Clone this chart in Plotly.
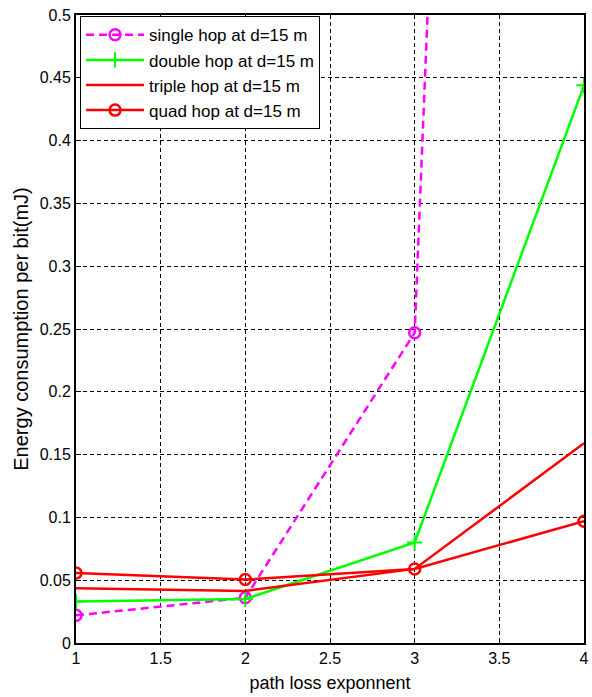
import plotly.graph_objects as go

x = [1, 2, 3, 4]
single_hop = [0.022, 0.036, 0.247, 3.58]
double_hop = [0.033, 0.035, 0.080, 0.444]
triple_hop = [0.0435, 0.0415, 0.059, 0.159]
quad_hop = [0.0557, 0.0505, 0.059, 0.097]

names = ["single hop at d=15 m", "double hop at d=15 m",
         "triple hop at d=15 m", "quad hop at d=15 m"]

xticks = [1, 1.5, 2, 2.5, 3, 3.5, 4]
yticks = [0, 0.05, 0.1, 0.15, 0.2, 0.25, 0.3, 0.35, 0.4, 0.45, 0.5]
ytick_text = ["0", "0.05", "0.1", "0.15", "0.2", "0.25", "0.3", "0.35", "0.4", "0.45", "0.5"]
xtick_text = ["1", "1.5", "2", "2.5", "3", "3.5", "4"]

FONT = "Liberation Sans, Arial, sans-serif"

fig = go.Figure()
fig.add_trace(go.Scatter(x=x, y=single_hop, name=names[0], mode="lines+markers",
                         line=dict(color="#ff00ff", width=2.5, dash="8px,5px"),
                         marker=dict(symbol="circle-open", size=11, color="#ff00ff", line=dict(width=2.5))))
fig.add_trace(go.Scatter(x=x, y=double_hop, name=names[1], mode="lines+markers",
                         line=dict(color="#00ff00", width=2.5),
                         marker=dict(symbol="cross-thin-open", size=11, color="#00ff00", line=dict(width=2, color="#00ff00"))))
fig.add_trace(go.Scatter(x=x, y=triple_hop, name=names[2], mode="lines",
                         line=dict(color="#ff0000", width=2.5)))
fig.add_trace(go.Scatter(x=x, y=quad_hop, name=names[3], mode="lines+markers",
                         line=dict(color="#ff0000", width=2.5),
                         marker=dict(symbol="circle-open", size=11, color="#ff0000", line=dict(width=2.5))))

fig.update_layout(
    width=592, height=697,
    margin=dict(l=76, r=3, t=15, b=54),
    plot_bgcolor="white", paper_bgcolor="white",
    font=dict(family=FONT, size=16, color="black"),
    showlegend=True,
    legend=dict(x=0.008, y=0.998, xanchor="left", yanchor="top",
                bgcolor="white", bordercolor="black", borderwidth=1,
                font=dict(size=17), itemwidth=58),
)
fig.update_xaxes(range=[1, 4], tickvals=xticks, ticktext=xtick_text,
                 showgrid=True, gridcolor="black", griddash="4px,3px", gridwidth=1,
                 showline=True, linecolor="black", linewidth=2, mirror=True,
                 ticks="inside", ticklen=5, tickcolor="black", zeroline=False,
                 title=dict(text="path loss exponnent", font=dict(size=18), standoff=10))
fig.update_yaxes(range=[0, 0.5], tickvals=yticks, ticktext=ytick_text,
                 showgrid=True, gridcolor="black", griddash="4px,3px", gridwidth=1,
                 showline=True, linecolor="black", linewidth=2, mirror=True,
                 ticks="inside", ticklen=5, tickcolor="black", zeroline=False,
                 title=dict(text="Energy consumption per bit(mJ)", font=dict(size=20), standoff=6))

fig.write_html("out.html")
